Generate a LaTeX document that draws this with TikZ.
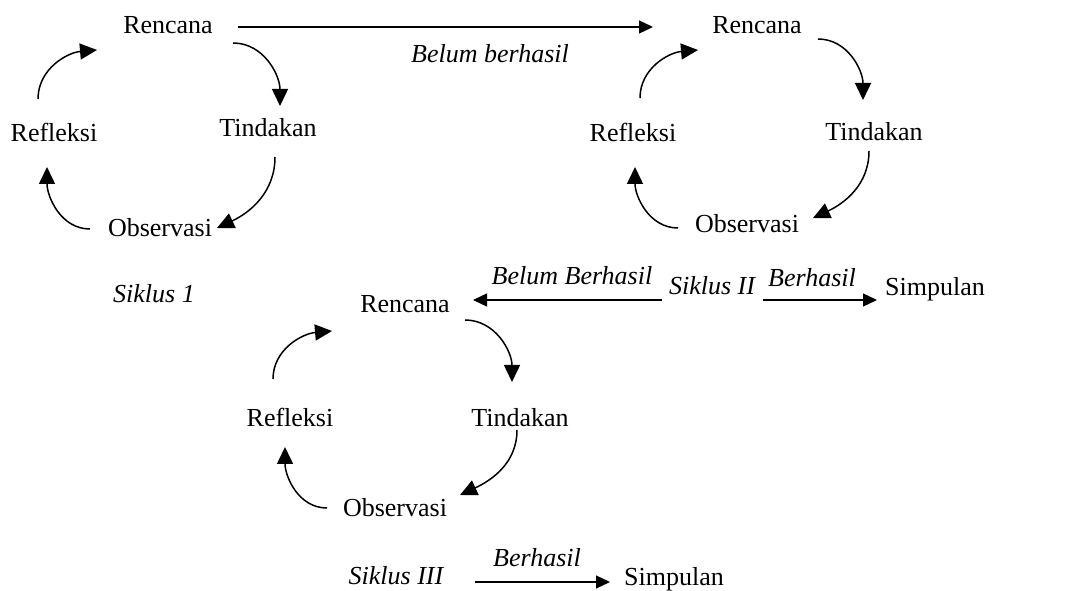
\documentclass[tikz,border=0pt]{standalone}
\usepackage{fontspec}
\setmainfont{Liberation Serif}
\usetikzlibrary{arrows.meta}
\begin{document}
\begin{tikzpicture}[x=1pt,y=1pt,
 lbl/.style={anchor=base,inner sep=0pt,font=\fontsize{26}{30}\selectfont},
 ilbl/.style={anchor=base,inner sep=0pt,font=\fontsize{26}{30}\selectfont\itshape},
 cyc/.style={line width=1.5pt,-{Triangle[length=17pt,width=16pt]}},
 arr/.style={line width=1.3pt,-{Triangle[length=14pt,width=13pt]}}]
\useasboundingbox (0,0) rectangle (1074,591);
% ---- cycle 1
\node[lbl] (ren1) at (168,557) {Rencana};
\node[lbl] (tin1) at (268,454) {Tindakan};
\node[lbl] (ref1) at (54,449) {Refleksi};
\node[lbl] (obs1) at (160,354) {Observasi};
\node[ilbl] (sik1) at (154,288) {Siklus 1};
\draw[cyc] ([shift={(-16,43)}]ref1.base) to[out=90,in=185] ([shift={(-71,-16)}]ren1.base);
\draw[cyc] ([shift={(65,-9)}]ren1.base) to[out=0,in=90] ([shift={(12,31)}]tin1.base);
\draw[cyc] ([shift={(7,-20)}]tin1.base) to[out=-90,in=25] ([shift={(57,9)}]obs1.base);
\draw[cyc] ([shift={(-70,8)}]obs1.base) to[out=180,in=-90] ([shift={(-7,-25)}]ref1.base);
% ---- top connector
\node[lbl] (ren2) at (757,557) {Rencana};
\draw[arr] ([shift={(70,7)}]ren1.base) -- ([shift={(-104,7)}]ren2.base);
\node[ilbl] (bb1) at (490,528) {Belum berhasil};
% ---- cycle 2
\node[lbl] (tin2) at (874,450) {Tindakan};
\node[lbl] (ref2) at (633,449) {Refleksi};
\node[lbl] (obs2) at (747,358) {Observasi};
\draw[cyc] ([shift={(7,44)}]ref2.base) to[out=90,in=185] ([shift={(-59,-16)}]ren2.base);
\draw[cyc] ([shift={(61,-5)}]ren2.base) to[out=0,in=90] ([shift={(-11,41)}]tin2.base);
\draw[cyc] ([shift={(-5,-10)}]tin2.base) to[out=-90,in=25] ([shift={(66,15)}]obs2.base);
\draw[cyc] ([shift={(-69,5)}]obs2.base) to[out=180,in=-90] ([shift={(2,-25)}]ref2.base);
% ---- middle row
\node[ilbl] (sik2) at (712,296) {Siklus II};
\node[lbl] (sim1) at (935,295) {Simpulan};
\node[ilbl] (bB) at (572,306) {Belum Berhasil};
\node[ilbl] (ber1) at (812,304) {Berhasil};
\node[lbl] (ren3) at (405,278) {Rencana};
\draw[arr] ([shift={(-50,-5)}]sik2.base) -- ([shift={(68,13)}]ren3.base);
\draw[arr] ([shift={(51,-5)}]sik2.base) -- ([shift={(-58,-4)}]sim1.base);
% ---- cycle 3
\node[lbl] (tin3) at (520,164) {Tindakan};
\node[lbl] (ref3) at (290,164) {Refleksi};
\node[lbl] (obs3) at (395,74) {Observasi};
\draw[cyc] ([shift={(-17,48)}]ref3.base) to[out=90,in=185] ([shift={(-73,-18)}]ren3.base);
\draw[cyc] ([shift={(60,-7)}]ren3.base) to[out=0,in=90] ([shift={(-8,45)}]tin3.base);
\draw[cyc] ([shift={(-3,-3)}]tin3.base) to[out=-90,in=25] ([shift={(65,22)}]obs3.base);
\draw[cyc] ([shift={(-68,9)}]obs3.base) to[out=180,in=-90] ([shift={(-5,-20)}]ref3.base);
% ---- bottom row
\node[ilbl] (sik3) at (396,6) {Siklus III};
\node[ilbl] (ber2) at (537,24) {Berhasil};
\node[lbl] (sim2) at (674,5) {Simpulan};
\draw[arr] ([shift={(79,3)}]sik3.base) -- ([shift={(-64,4)}]sim2.base);
\end{tikzpicture}
\end{document}
